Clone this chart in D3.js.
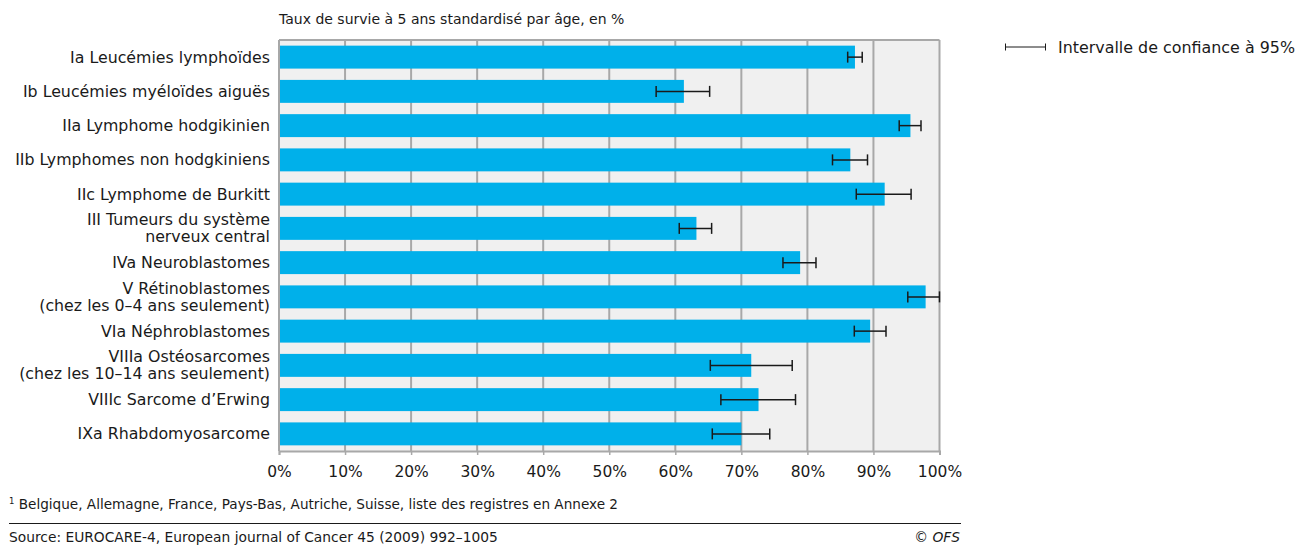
<!DOCTYPE html>
<html>
<head>
<meta charset="utf-8">
<script src="https://cdn.jsdelivr.net/npm/d3@7"></script>
<style>
  body { margin: 0; background: #fff; }
  text { font-family: "DejaVu Sans", "Noto Sans", sans-serif; fill: #1a1a1a; }
</style>
</head>
<body>
<div id="chart"></div>
<script>
// data
var categories = [
  ["Ia Leucémies lymphoïdes"],
  ["Ib Leucémies myéloïdes aiguës"],
  ["IIa Lymphome hodgikinien"],
  ["IIb Lymphomes non hodgkiniens"],
  ["IIc Lymphome de Burkitt"],
  ["III Tumeurs du système", "nerveux central"],
  ["IVa Neuroblastomes"],
  ["V Rétinoblastomes", "(chez les 0–4 ans seulement)"],
  ["VIa Néphroblastomes"],
  ["VIIIa Ostéosarcomes", "(chez les 10–14 ans seulement)"],
  ["VIIIc Sarcome d’Erwing"],
  ["IXa Rhabdomyosarcome"]
];
var survival = [87.2, 61.3, 95.6, 86.5, 91.7, 63.2, 78.9, 97.9, 89.5, 71.5, 72.6, 70.0];
var ciLow    = [86.1, 57.1, 93.9, 83.8, 87.4, 60.6, 76.3, 95.2, 87.1, 65.3, 66.9, 65.6];
var ciHigh   = [88.3, 65.2, 97.2, 89.1, 95.7, 65.5, 81.3, 100, 91.9, 77.7, 78.2, 74.3];
var xTicks = [0, 10, 20, 30, 40, 50, 60, 70, 80, 90, 100];

var width = 1313, height = 548;
var plotLeft = 279, plotRight = 939.5, plotTop = 40, plotBottom = 451;

var svg = d3.select("#chart").append("svg")
    .attr("width", width)
    .attr("height", height);

var x = d3.scaleLinear().domain([0, 100]).range([plotLeft, plotRight]);
var y = d3.scaleBand().domain(d3.range(categories.length))
    .range([plotTop, plotBottom]).paddingInner(0.33).paddingOuter(0.165);

// title
svg.append("text")
    .attr("x", plotLeft).attr("y", 24)
    .style("font-size", "14px")
    .text("Taux de survie à 5 ans standardisé par âge, en %");

// plot background
svg.append("rect")
    .attr("x", plotLeft).attr("y", plotTop)
    .attr("width", plotRight - plotLeft).attr("height", plotBottom - plotTop)
    .attr("fill", "#f0f0f0");

// gridlines
svg.append("g").selectAll("line")
    .data(xTicks)
    .enter().append("line")
    .attr("x1", d => x(d)).attr("x2", d => x(d))
    .attr("y1", plotTop).attr("y2", plotBottom)
    .attr("stroke", "#a8a8a8")
    .attr("stroke-width", 2);

// top border
svg.append("line")
    .attr("x1", plotLeft).attr("x2", plotRight)
    .attr("y1", plotTop).attr("y2", plotTop)
    .attr("stroke", "#a8a8a8").attr("stroke-width", 2);

// bars
svg.append("g").selectAll("rect")
    .data(survival)
    .enter().append("rect")
    .attr("x", x(0) + 1)
    .attr("y", (d, i) => y(i))
    .attr("width", d => x(d) - x(0) - 1)
    .attr("height", y.bandwidth())
    .attr("fill", "#00b0ea");

// error bars
var eb = svg.append("g").selectAll("g")
    .data(survival)
    .enter().append("g")
    .attr("transform", (d, i) => "translate(0," + (y(i) + y.bandwidth() / 2) + ")");
eb.append("line")
    .attr("x1", (d, i) => x(ciLow[i])).attr("x2", (d, i) => x(ciHigh[i]))
    .attr("stroke", "#1a1a1a").attr("stroke-width", 1.5);
eb.append("line")
    .attr("x1", (d, i) => x(ciLow[i])).attr("x2", (d, i) => x(ciLow[i]))
    .attr("y1", -5.5).attr("y2", 5.5)
    .attr("stroke", "#1a1a1a").attr("stroke-width", 1.5);
eb.append("line")
    .attr("x1", (d, i) => x(ciHigh[i])).attr("x2", (d, i) => x(ciHigh[i]))
    .attr("y1", -5.5).attr("y2", 5.5)
    .attr("stroke", "#1a1a1a").attr("stroke-width", 1.5);

// x axis
var xAxis = svg.append("g")
    .attr("transform", "translate(0," + plotBottom + ")")
    .call(d3.axisBottom(x).tickValues(xTicks).tickFormat(d => d + "%").tickSize(4).tickPadding(11));
xAxis.select(".domain").attr("stroke", "#a8a8a8").attr("stroke-width", 2);
xAxis.selectAll(".tick line").attr("stroke", "#a8a8a8").attr("stroke-width", 1.5);
xAxis.selectAll(".tick text")
    .style("font-family", "DejaVu Sans, sans-serif")
    .style("font-size", "15.5px")
    .attr("fill", "#1a1a1a");

// category labels
var lab = svg.append("g").selectAll("text")
    .data(categories)
    .enter().append("text")
    .attr("text-anchor", "end")
    .style("font-size", "15.8px")
    .attr("y", (d, i) => y(i) + y.bandwidth() / 2 + 5.5 - (d.length - 1) * 8.5);
lab.selectAll("tspan")
    .data(d => d)
    .enter().append("tspan")
    .attr("x", 270)
    .attr("dy", (d, j) => j === 0 ? 0 : 17)
    .text(d => d);

// legend
var lg = svg.append("g").attr("transform", "translate(1005,47)");
lg.append("line").attr("x1", 0).attr("x2", 41).attr("stroke", "#1a1a1a").attr("stroke-width", 1);
lg.append("line").attr("x1", 0.5).attr("x2", 0.5).attr("y1", -3.5).attr("y2", 3.5).attr("stroke", "#1a1a1a");
lg.append("line").attr("x1", 40.5).attr("x2", 40.5).attr("y1", -3.5).attr("y2", 3.5).attr("stroke", "#1a1a1a");
lg.append("text").attr("x", 53).attr("y", 5.5).style("font-size", "15.9px")
    .text("Intervalle de confiance à 95%");

// footnote and source
svg.append("text")
    .attr("x", 9).attr("y", 509)
    .style("font-size", "13.6px")
    .html("<tspan font-size='8.5px' dy='-5'>1</tspan><tspan dy='5'> Belgique, Allemagne, France, Pays-Bas, Autriche, Suisse, liste des registres en Annexe 2</tspan>");

svg.append("line")
    .attr("x1", 9).attr("x2", 961)
    .attr("y1", 523.5).attr("y2", 523.5)
    .attr("stroke", "#1a1a1a").attr("stroke-width", 1);

svg.append("text")
    .attr("x", 9).attr("y", 542)
    .style("font-size", "13.8px")
    .text("Source: EUROCARE-4, European journal of Cancer 45 (2009) 992–1005");

svg.append("text")
    .attr("x", 960).attr("y", 542)
    .attr("text-anchor", "end")
    .style("font-size", "13.8px")
    .style("font-style", "italic")
    .text("© OFS");
</script>
</body>
</html>
